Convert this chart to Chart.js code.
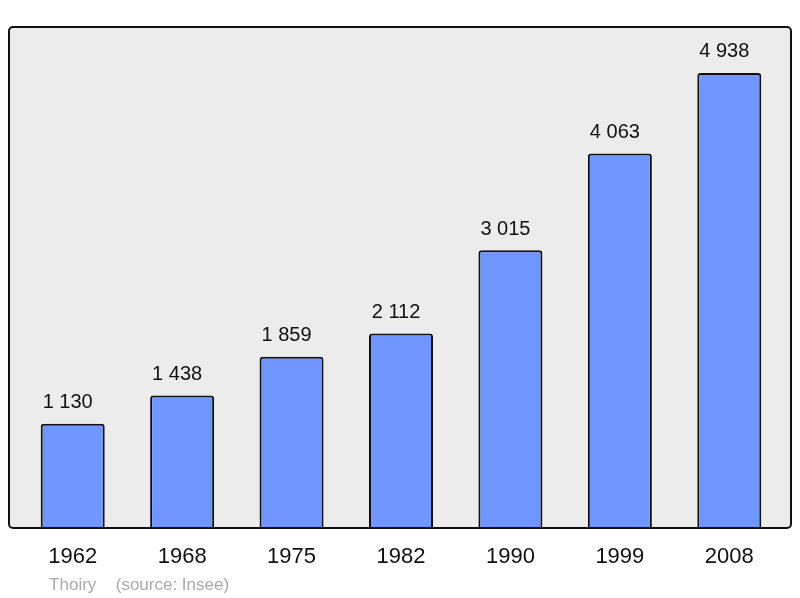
<!DOCTYPE html>
<html>
<head>
<meta charset="utf-8">
<script src="https://cdn.jsdelivr.net/npm/chart.js@4"></script>
<style>
  html, body { margin: 0; padding: 0; background: #fff; }
  #wrap { width: 800px; height: 598px; }
</style>
</head>
<body>
<div id="wrap"><canvas id="popChart" width="800" height="598"></canvas></div>
<script>
const years = ["1962", "1968", "1975", "1982", "1990", "1999", "2008"];
const population = [1130, 1438, 1859, 2112, 3015, 4063, 4938];
const valueLabels = ["1 130", "1 438", "1 859", "2 112", "3 015", "4 063", "4 938"];
const townName = "Thoiry";
const sourceText = "(source: Insee)";

const FONT = "'Liberation Sans', Arial, sans-serif";

// frame behind the bars + labels
const framePlugin = {
    id: "frame",
    beforeDatasetsDraw(chart) {
        const { ctx, chartArea } = chart;
        ctx.save();
        ctx.beginPath();
        ctx.roundRect(chartArea.left - 9, chartArea.top, chartArea.right - chartArea.left + 16, chartArea.bottom - chartArea.top, 4);
        ctx.fillStyle = "#ececec";
        ctx.fill();
        ctx.restore();
    },
    afterDatasetsDraw(chart) {
        const { ctx, chartArea, scales } = chart;
        const meta = chart.getDatasetMeta(0);
        ctx.save();
        ctx.beginPath();
        ctx.roundRect(chartArea.left - 9, chartArea.top, chartArea.right - chartArea.left + 16, chartArea.bottom - chartArea.top, 4);
        ctx.lineWidth = 2;
        ctx.strokeStyle = "#111";
        ctx.stroke();

        ctx.fillStyle = "#111";
        ctx.textAlign = "center";
        ctx.textBaseline = "middle";
        ctx.font = "20px " + FONT;
        meta.data.forEach((bar, i) => {
            ctx.fillText(valueLabels[i], bar.x - 5, bar.y - 21);
        });

        ctx.font = "22px " + FONT;
        years.forEach((y, i) => {
            ctx.fillText(y, scales.x.getPixelForValue(i), chartArea.bottom + 29);
        });

        ctx.fillStyle = "#aaaaaa";
        ctx.font = "17px " + FONT;
        const x0 = scales.x.getPixelForValue(0);
        ctx.fillText(townName, x0, chartArea.bottom + 57);
        ctx.textAlign = "left";
        ctx.fillText(sourceText, x0 + 43, chartArea.bottom + 57);
        ctx.restore();
    }
};

new Chart(document.getElementById("popChart"), {
    type: "bar",
    data: {
        labels: years,
        datasets: [{
            data: population,
            backgroundColor: "#7096ff",
            borderColor: "#111",
            borderWidth: 2,
            borderRadius: 3,
            borderSkipped: "bottom",
            categoryPercentage: 1,
            barPercentage: 0.585
        }]
    },
    options: {
        responsive: false,
        animation: false,
        layout: { padding: { left: 18, right: 16, top: 27, bottom: 70 } },
        scales: {
            x: { display: false },
            y: { display: false, min: 0, max: 5437 }
        },
        plugins: {
            legend: { display: false },
            tooltip: { enabled: false }
        }
    },
    plugins: [framePlugin]
});
</script>
</body>
</html>
